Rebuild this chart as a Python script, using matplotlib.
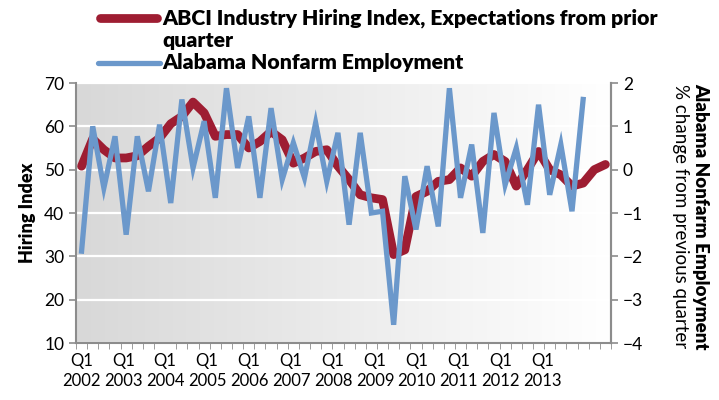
import numpy as np
import matplotlib
matplotlib.use("Agg")
import matplotlib.pyplot as plt
from matplotlib.colors import LinearSegmentedColormap
from matplotlib.lines import Line2D

plt.rcParams["font.family"] = ["Lato", "DejaVu Sans"]

# quarterly data, 2002 Q1 .. 2013 Q4
hiring_index = [
    50.8, 57.1, 54.6, 52.7, 52.7, 53.2, 55.4, 57.3, 60.6, 62.3, 65.6, 63.1,
    57.7, 58.1, 58.1, 55.0, 56.5, 58.8, 56.9, 51.5, 52.7, 54.2, 54.6, 50.8,
    47.7, 44.2, 43.5, 43.1, 30.4, 31.5, 43.8, 45.0, 47.3, 47.7, 50.4, 48.5,
    51.9, 53.5, 51.9, 46.2, 50.0, 54.2, 50.0, 48.8, 46.2, 46.9, 50.0, 51.2,
]
nonfarm_change = [
    -1.88, 1.00, -0.42, 0.77, -1.50, 0.77, -0.50, 1.04, -0.77, 1.62, 0.04, 1.12,
    -0.65, 1.88, 0.04, 1.23, -0.65, 1.42, -0.23, 0.62, -0.19, 1.08, -0.27, 0.85,
    -1.27, 0.85, -1.00, -0.96, -3.58, -0.15, -1.38, 0.08, -1.31, 1.88, -0.65, 0.58,
    -1.46, 1.31, -0.35, 0.50, -0.81, 1.50, -0.58, 0.58, -0.96, 1.62,
]
years = [str(y) for y in range(2002, 2014)]
n_quarters = 48
n_label_slots = 51  # the label row in the source is laid out on 51 slots

red = "#9e1d32"
blue = "#6b98cb"
grey = "#8c8c8c"

fig = plt.figure(figsize=(7.19, 4.0), dpi=100)
W, H = 719, 400
ax = fig.add_axes([76 / W, 1 - 343 / H, (611 - 76) / W, (343 - 83) / H])

# grey-to-white background
cmap = LinearSegmentedColormap.from_list("bg", ["#d8d8d8", "#ffffff"])
ax.imshow(np.linspace(0, 1, 256)[None, :], extent=[0, 1, 0, 1], transform=ax.transAxes,
          aspect="auto", cmap=cmap, zorder=0)

x_red = np.arange(len(hiring_index)) + 0.5
ax.plot(x_red, hiring_index, color=red, lw=6.3, solid_capstyle="round",
        solid_joinstyle="round", zorder=2)
ax.set_xlim(0, n_quarters)
ax.set_ylim(10, 70)
ax.set_yticks(range(10, 71, 10))
ax.set_axisbelow(True)
ax.yaxis.grid(True, color="white", lw=1.6)

ax.set_xticks(np.arange(0, n_quarters + 1), minor=True)
label_pos = (np.arange(len(years)) * 4 + 0.5) * n_quarters / n_label_slots
ax.set_xticks(label_pos)
ax.set_xticklabels([f"Q1\n{y}" for y in years], fontsize=12, linespacing=1.3)
ax.tick_params(axis="x", which="major", length=0, pad=7)
ax.tick_params(axis="x", which="minor", length=4, color=grey, direction="out")
ax.tick_params(axis="y", length=5, color=grey, labelsize=12.5, width=1.2)

ax.spines["top"].set_visible(False)
for side in ["left", "right", "bottom"]:
    ax.spines[side].set_color(grey)
    ax.spines[side].set_linewidth(1.5)
ax.set_ylabel("Hiring Index", fontsize=13, fontweight="heavy", labelpad=6)

ax2 = ax.twinx()
x_blue = np.arange(len(nonfarm_change)) + 0.5
ax2.plot(x_blue, nonfarm_change, color=blue, lw=3.8, solid_joinstyle="miter", zorder=3)
ax2.set_ylim(-4, 2)
ax2.set_yticks(range(-4, 3))
ax2.tick_params(axis="y", length=5, color=grey, labelsize=12.5, width=1.2)
ax2.spines["top"].set_visible(False)
ax2.spines["right"].set_color(grey)
ax2.spines["right"].set_linewidth(1.5)
ax2.spines["left"].set_visible(False)
ax2.spines["bottom"].set_visible(False)

fig.text(701 / W, 1 - 216 / H, "Alabama Nonfarm Employment", rotation=270,
         fontsize=13.5, fontweight="heavy", ha="center", va="center")
fig.text(681 / W, 1 - 216 / H, "% change from previous quarter", rotation=270,
         fontsize=13.5, ha="center", va="center")

# legend drawn at the top
fig.add_artist(Line2D([100 / W, 157 / W], [1 - 18 / H] * 2, color=red, lw=6.3,
                      solid_capstyle="round"))
fig.add_artist(Line2D([98 / W, 160 / W], [1 - 63 / H] * 2, color=blue, lw=3.8,
                      solid_capstyle="round"))
legend_font = dict(fontsize=15.3, fontweight="heavy", va="center")
fig.text(162 / W, 1 - 18 / H, "ABCI Industry Hiring Index, Expectations from prior",
         **legend_font)
fig.text(162 / W, 1 - 40 / H, "quarter", **legend_font)
fig.text(162 / W, 1 - 63 / H, "Alabama Nonfarm Employment", **legend_font)

fig.savefig("out.png", dpi=100)
